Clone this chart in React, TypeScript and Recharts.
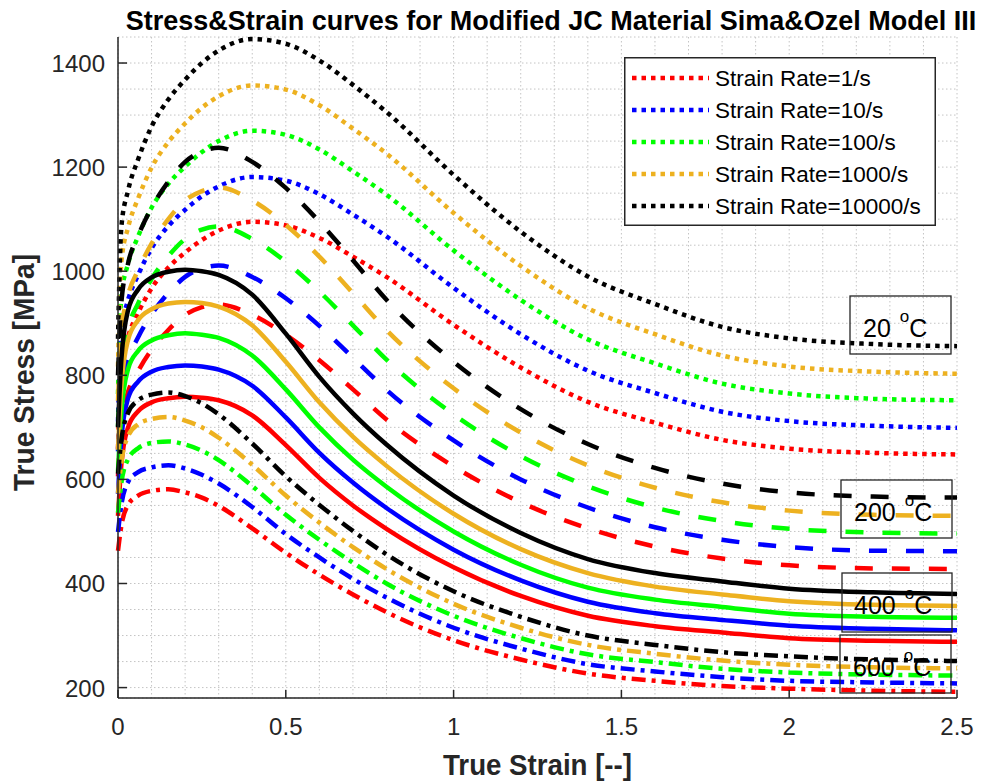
import { LineChart, Line, XAxis, YAxis, CartesianGrid, Legend } from "recharts";

// strain sample points shared by every curve
const STRAIN = [0, 0.01, 0.03, 0.06, 0.1, 0.15, 0.2, 0.25, 0.3, 0.4, 0.5, 0.6, 0.7, 0.8, 1.0, 1.2, 1.4, 1.6, 1.8, 2.0, 2.25, 2.5];

// 20 °C
const T20_R1 = [659, 821, 874, 920, 967, 1007, 1036, 1060, 1078, 1095, 1088, 1064, 1028, 989, 897, 815, 749, 709, 676, 659, 651, 648];
const T20_R10 = [711, 886, 944, 993, 1044, 1087, 1118, 1144, 1163, 1181, 1174, 1148, 1109, 1067, 968, 879, 809, 766, 730, 712, 703, 699];
const T20_R100 = [764, 953, 1014, 1067, 1122, 1168, 1201, 1229, 1250, 1270, 1262, 1234, 1192, 1147, 1040, 945, 869, 823, 784, 765, 755, 752];
const T20_R1000 = [817, 1018, 1084, 1140, 1199, 1248, 1284, 1314, 1336, 1357, 1349, 1319, 1274, 1226, 1112, 1010, 929, 879, 838, 817, 807, 803];
const T20_R10000 = [870, 1085, 1155, 1215, 1278, 1330, 1368, 1400, 1424, 1446, 1437, 1405, 1358, 1306, 1185, 1076, 990, 937, 893, 871, 860, 856];

// 200 °C
const T200_R1 = [606, 712, 768, 808, 849, 887, 916, 931, 936, 916, 878, 829, 773, 715, 625, 556, 506, 471, 448, 435, 429, 428];
const T200_R10 = [654, 768, 829, 873, 917, 958, 989, 1005, 1011, 989, 948, 895, 834, 772, 675, 600, 546, 508, 484, 470, 463, 462];
const T200_R100 = [702, 825, 891, 938, 985, 1029, 1062, 1080, 1086, 1062, 1018, 961, 896, 830, 725, 645, 587, 546, 520, 505, 498, 496];
const T200_R1000 = [751, 882, 953, 1002, 1053, 1100, 1136, 1154, 1161, 1136, 1089, 1028, 958, 887, 775, 690, 627, 584, 556, 540, 532, 530];
const T200_R10000 = [800, 940, 1015, 1068, 1122, 1172, 1210, 1230, 1237, 1210, 1160, 1095, 1021, 945, 826, 735, 668, 622, 592, 575, 567, 565];

// 400 °C
const T400_R1 = [530, 628, 700, 731, 748, 756, 759, 757, 752, 723, 666, 603, 550, 505, 431, 376, 338, 318, 306, 295, 290, 288];
const T400_R10 = [572, 678, 756, 788, 807, 816, 819, 817, 811, 780, 719, 651, 594, 545, 465, 406, 365, 343, 330, 319, 313, 310];
const T400_R100 = [615, 729, 812, 847, 867, 877, 881, 878, 872, 838, 773, 700, 638, 586, 500, 436, 392, 369, 355, 342, 336, 334];
const T400_R1000 = [657, 779, 868, 906, 927, 938, 941, 939, 932, 896, 826, 748, 682, 626, 534, 466, 420, 394, 379, 366, 359, 357];
const T400_R10000 = [700, 830, 925, 965, 988, 999, 1003, 1000, 993, 955, 880, 797, 727, 667, 569, 497, 447, 420, 404, 390, 383, 380];

// 600 °C
const T600_R1 = [463, 511, 551, 569, 578, 581, 575, 565, 549, 506, 459, 417, 379, 345, 291, 254, 227, 213, 203, 198, 194, 192];
const T600_R10 = [499, 551, 595, 614, 623, 627, 621, 609, 592, 547, 495, 450, 409, 373, 315, 275, 245, 231, 220, 213, 210, 208];
const T600_R100 = [536, 593, 639, 660, 670, 673, 667, 655, 637, 587, 532, 484, 440, 400, 338, 295, 264, 249, 236, 229, 225, 223];
const T600_R1000 = [573, 633, 683, 706, 716, 720, 713, 700, 680, 628, 569, 517, 470, 428, 361, 315, 282, 265, 252, 244, 239, 237];
const T600_R10000 = [611, 675, 728, 752, 763, 767, 760, 746, 725, 669, 606, 551, 501, 456, 385, 336, 300, 282, 268, 260, 254, 251];

const TEMPS = ["20", "200", "400", "600"];
const RATES = ["1", "10", "100", "1000", "10000"];
const STRESS = [
  [T20_R1, T20_R10, T20_R100, T20_R1000, T20_R10000],
  [T200_R1, T200_R10, T200_R100, T200_R1000, T200_R10000],
  [T400_R1, T400_R10, T400_R100, T400_R1000, T400_R10000],
  [T600_R1, T600_R10, T600_R100, T600_R1000, T600_R10000],
];

const X_MAJOR = [0, 0.5, 1, 1.5, 2, 2.5];
const X_LABELS = ["0", "0.5", "1", "1.5", "2", "2.5"];
const Y_MAJOR = [200, 400, 600, 800, 1000, 1200, 1400];
const Y_LABELS = ["200", "400", "600", "800", "1000", "1200", "1400"];
// minor grid: every 0.1 strain, every 50 MPa
const X_GRID = Array.from({ length: 26 }, (_, i) => i / 10);
const Y_GRID = Array.from({ length: 26 }, (_, i) => 200 + i * 50);

const RATE_COLORS = ["#ff0000", "#0000ff", "#00ff00", "#edb120", "#000000"];
// dotted, dashed, solid, dash-dot
const TEMP_DASH = ["4.5 5", "18 19", undefined, "14 6 4 6"];

const AXIS = "#262626";
const FONT = "'Liberation Sans', Arial, sans-serif";

const TEMP_BOXES = [
  { x: 850, y: 296, w: 101, h: 58, tx: 863 },
  { x: 841, y: 480, w: 111, h: 58, tx: 854 },
  { x: 842, y: 573, w: 110, h: 59, tx: 854 },
  { x: 840, y: 635, w: 111, h: 58, tx: 853 },
];

const data = STRAIN.map((s, i) => {
  const row: Record<string, number> = { strain: s };
  STRESS.forEach((group, t) =>
    group.forEach((vals, r) => {
      row[`t${t}r${r}`] = vals[i];
    })
  );
  return row;
});

const near = (a: number, b: number) => Math.abs(a - b) < 1e-6;

// MATLAB-style ticks: drawn inward, labels only on major values
const XTick = (props: any) => {
  const { x, y, payload } = props;
  const idx = X_MAJOR.findIndex((m) => near(m, payload.value));
  if (idx < 0) return <g />;
  return (
    <g>
      <line x1={x} y1={y} x2={x} y2={y - 8} stroke={AXIS} strokeWidth={1.5} />
      <text x={x} y={y + 37} textAnchor="middle" fontSize={24} fontFamily={FONT} fill={AXIS}>
        {X_LABELS[idx]}
      </text>
    </g>
  );
};

const YTick = (props: any) => {
  const { x, y, payload } = props;
  const idx = Y_MAJOR.findIndex((m) => near(m, payload.value));
  if (idx < 0) return <g />;
  return (
    <g>
      <line x1={x} y1={y} x2={x + 9} y2={y} stroke={AXIS} strokeWidth={1.5} />
      <text x={x - 13} y={y + 9} textAnchor="end" fontSize={24} fontFamily={FONT} fill={AXIS}>
        {Y_LABELS[idx]}
      </text>
    </g>
  );
};

const LegendBox = () => (
  <svg width={312} height={169} style={{ display: "block" }}>
    <rect x={0.75} y={0.75} width={310.5} height={167.5} fill="#fff" stroke={AXIS} strokeWidth={1.5} />
    {RATES.map((r, i) => {
      const cy = 21 + i * 32;
      return (
        <g key={r}>
          <line x1={8} y1={cy} x2={85} y2={cy} stroke={RATE_COLORS[i]} strokeWidth={4.5} strokeDasharray={TEMP_DASH[0]} />
          <text x={91} y={cy + 8} fontSize={22.5} fontFamily={FONT} fill="#000">
            {`Strain Rate=${r}/s`}
          </text>
        </g>
      );
    })}
  </svg>
);

export default function App() {
  return (
    <div style={{ position: "absolute", left: 0, top: 0, width: 988, height: 783, background: "#fff" }}>
      <LineChart width={988} height={783} data={data} margin={{ top: 37, right: 31, bottom: 0, left: 0 }}>
        <CartesianGrid stroke="#c4c4c4" strokeDasharray="1.5 2.5" strokeWidth={1} />
        <XAxis
          dataKey="strain"
          type="number"
          domain={[0, 2.5]}
          ticks={X_GRID}
          interval={0}
          height={85}
          tickSize={0}
          tickMargin={0}
          tickLine={false}
          axisLine={{ stroke: AXIS, strokeWidth: 1.5 }}
          tick={<XTick />}
        />
        <YAxis
          type="number"
          domain={[180, 1450]}
          ticks={Y_GRID}
          interval={0}
          width={118}
          tickSize={0}
          tickMargin={0}
          tickLine={false}
          axisLine={{ stroke: AXIS, strokeWidth: 1.5 }}
          tick={<YTick />}
        />
        {TEMPS.flatMap((t, ti) =>
          RATES.map((r, ri) => (
            <Line
              key={`${t}-${r}`}
              type="monotone"
              dataKey={`t${ti}r${ri}`}
              stroke={RATE_COLORS[ri]}
              strokeWidth={4.5}
              strokeDasharray={TEMP_DASH[ti]}
              dot={false}
              activeDot={false}
              legendType="none"
              isAnimationActive={false}
            />
          ))
        )}
        <Legend
          layout="vertical"
          align="center"
          verticalAlign="middle"
          wrapperStyle={{ left: 624, top: 57, width: 312, height: 169 }}
          content={() => <LegendBox />}
        />
      </LineChart>

      <svg
        width={988}
        height={783}
        style={{ position: "absolute", left: 0, top: 0, pointerEvents: "none" }}
        fontFamily={FONT}
      >
        <text x={551} y={30} textAnchor="middle" fontSize={27} fontWeight="bold" fill="#000">
          Stress&amp;Strain curves for Modified JC Material Sima&amp;Ozel Model III
        </text>
        <text
          x={443}
          y={775}
          fontSize={29}
          fontWeight="bold"
          fill={AXIS}
          textLength={189}
          lengthAdjust="spacingAndGlyphs"
        >
          True Strain [--]
        </text>
        <text
          x={34}
          y={491}
          fontSize={29}
          fontWeight="bold"
          fill={AXIS}
          textLength={237}
          lengthAdjust="spacingAndGlyphs"
          transform="rotate(-90 34 491)"
        >
          True Stress [MPa]
        </text>
        {TEMP_BOXES.map((b, i) => (
          <g key={TEMPS[i]}>
            <rect x={b.x} y={b.y} width={b.w} height={b.h} fill="none" stroke={AXIS} strokeWidth={1.3} />
            <text x={b.tx} y={b.y + 41} fontSize={25} fill="#000">
              {`${TEMPS[i]} `}
              <tspan dx={2} dy={-15} fontSize={17}>o</tspan>
              <tspan dy={15}>C</tspan>
            </text>
          </g>
        ))}
      </svg>
    </div>
  );
}
